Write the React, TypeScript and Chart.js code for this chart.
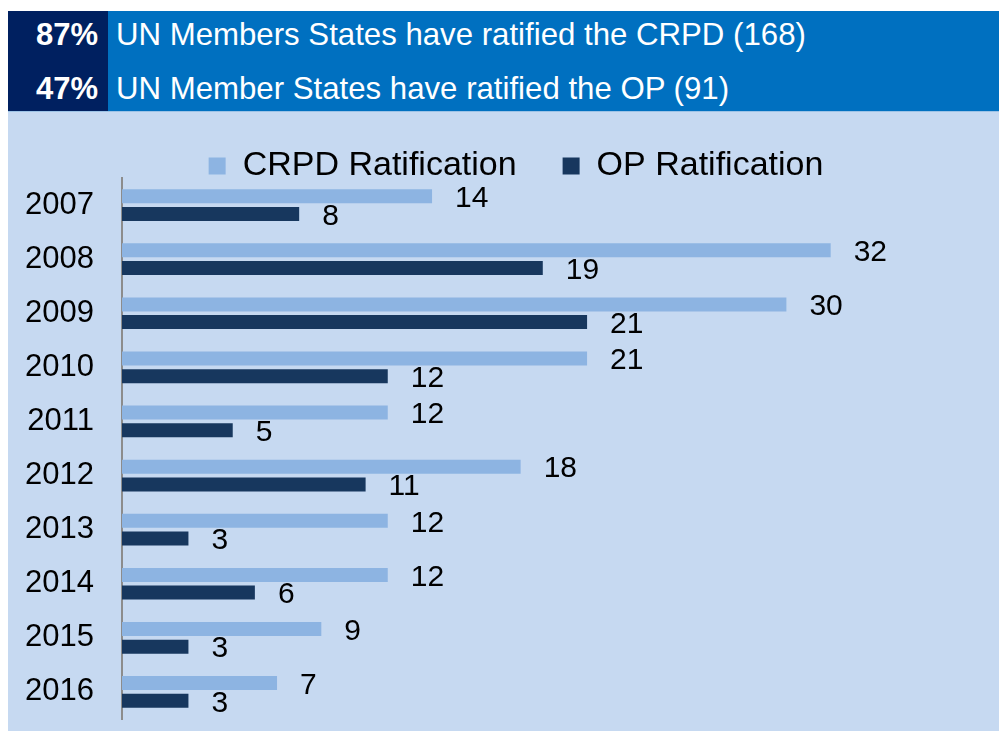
import React, { useEffect, useRef } from "react";
import { Chart, registerables } from "chart.js";

Chart.register(...registerables);

const years = ["2007", "2008", "2009", "2010", "2011", "2012", "2013", "2014", "2015", "2016"];
const crpdValues = [14, 32, 30, 21, 12, 18, 12, 12, 9, 7];
const opValues = [8, 19, 21, 12, 5, 11, 3, 6, 3, 3];
const seriesNames = ["CRPD Ratification", "OP Ratification"];
const headerPercents = ["87%", "47%"];
const headerTexts = [
  "UN Members States have ratified the CRPD (168)",
  "UN Member States have ratified the OP (91)",
];
const xMax = 39.6;

const FONT = "'Liberation Sans', Arial, Helvetica, sans-serif";

export default function App() {
  const ref = useRef<HTMLCanvasElement>(null);

  useEffect(() => {
    if (!ref.current) return;
    const valueLabels = {
      id: "valueLabels",
      afterDatasetsDraw(chart: any) {
        const ctx = chart.ctx;
        ctx.save();
        ctx.font = `30px ${FONT}`;
        ctx.fillStyle = "#000000";
        ctx.textAlign = "left";
        ctx.textBaseline = "middle";
        chart.data.datasets.forEach((ds: any, i: number) => {
          const meta = chart.getDatasetMeta(i);
          meta.data.forEach((el: any, j: number) => {
            ctx.fillText(String(ds.data[j]), el.x + 23, el.y + 2.5);
          });
        });
        ctx.restore();
      },
    };

    const chart = new Chart(ref.current, {
      type: "bar",
      data: {
        labels: years,
        datasets: [
          {
            label: seriesNames[0],
            data: crpdValues,
            backgroundColor: "#8DB4E2",
            borderWidth: 0,
            categoryPercentage: 0.654,
            barPercentage: 0.79,
          },
          {
            label: seriesNames[1],
            data: opValues,
            backgroundColor: "#17375E",
            borderWidth: 0,
            categoryPercentage: 0.654,
            barPercentage: 0.79,
          },
        ],
      },
      options: {
        indexAxis: "y",
        responsive: false,
        animation: false,
        layout: { padding: { top: -9, left: 0, right: -25, bottom: 12 } },
        scales: {
          x: {
            display: false,
            min: 0,
            max: xMax,
            grid: { display: false },
          },
          y: {
            grid: { display: false, drawTicks: true, tickLength: 28 },
            border: { display: true, color: "#8C8C8C", width: 2 },
            ticks: {
              color: "#000000",
              font: { size: 31, family: FONT, lineHeight: 0.7 },
              padding: 0,
              autoSkip: false,
            },
            afterFit: (s: any) => {
              s.width = 114;
            },
          },
        },
        plugins: {
          legend: {
            position: "top",
            align: "center",
            maxHeight: 75,
            labels: {
              boxWidth: 17,
              boxHeight: 17,
              padding: 46,
              color: "#000000",
              font: { size: 34, family: FONT },
            },
          },
          tooltip: { enabled: false },
        },
      } as any,
      plugins: [valueLabels],
    });
    return () => chart.destroy();
  }, []);

  const rowStyle = (i: number): React.CSSProperties =>
    i === 0
      ? { height: 48, lineHeight: "48px", whiteSpace: "nowrap" }
      : {
          height: 52,
          lineHeight: "52px",
          paddingTop: 4,
          boxSizing: "border-box",
          whiteSpace: "nowrap",
        };

  return (
    <div
      style={{
        position: "absolute",
        left: 8,
        top: 11,
        width: 991,
        fontFamily: FONT,
      }}
    >
      <div style={{ display: "flex", height: 100 }}>
        <div
          style={{
            width: 100,
            background: "#002060",
            color: "#FFFFFF",
            fontWeight: "bold",
            fontSize: 31,
            textAlign: "right",
            paddingRight: 10,
            boxSizing: "border-box",
          }}
        >
          {headerPercents.map((p, i) => (
            <div key={i} style={rowStyle(i)}>
              {p}
            </div>
          ))}
        </div>
        <div
          style={{
            flex: 1,
            background: "#0070C0",
            color: "#FFFFFF",
            fontSize: 31.2,
            paddingLeft: 8,
            boxSizing: "border-box",
          }}
        >
          {headerTexts.map((t, i) => (
            <div key={i} style={rowStyle(i)}>
              {t}
            </div>
          ))}
        </div>
      </div>
      <div
        style={{
          borderTop: "1px solid #9DC3E6",
          background: "#C6D9F1",
          height: 619,
        }}
      >
        <canvas ref={ref} width={991} height={619} style={{ display: "block" }} />
      </div>
    </div>
  );
}
